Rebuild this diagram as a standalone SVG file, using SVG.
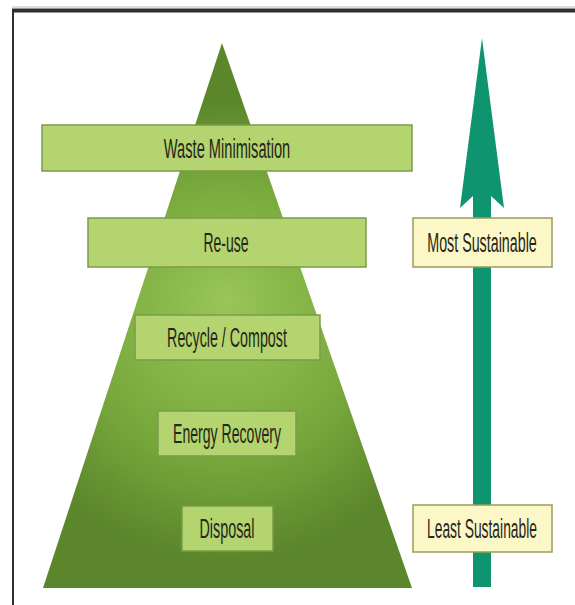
<svg xmlns="http://www.w3.org/2000/svg" width="575" height="605" viewBox="0 0 575 605">
<defs>
<radialGradient id="pg" gradientUnits="userSpaceOnUse" cx="225" cy="330" r="230" fx="225" fy="300">
<stop offset="0" stop-color="#98c657"/>
<stop offset="0.6" stop-color="#78a83c"/>
<stop offset="1" stop-color="#5b862b"/>
</radialGradient>
<style>
.lvl{fill:#b3d46e;stroke:#7c9a4c;stroke-width:1.5}
.sus{fill:#fcf7c6;stroke:#9c9a5c;stroke-width:1.5}
.t{font-family:"Liberation Sans",Arial,sans-serif;font-size:28px;fill:#26261a;text-anchor:middle}
</style>
</defs>
<rect width="575" height="605" fill="#ffffff"/>
<g id="frame">
<line x1="12" y1="10.5" x2="575" y2="10.5" stroke="#2e2e2e" stroke-width="4"/>
<line x1="12" y1="7" x2="575" y2="7" stroke="#bbbbbb" stroke-width="1"/>
<line x1="13" y1="9" x2="13" y2="605" stroke="#2e2e2e" stroke-width="2"/>
</g>
<g id="pyramid">
<polygon points="222,43 412,588 43,588" fill="url(#pg)"/>
</g>
<g id="connectors">
<polygon points="482,38 504,208 491,196 491,587 473,587 473,196 460,208" fill="#0f9470"/>
</g>
<g id="waste-minimisation">
<rect class="lvl" x="42" y="125" width="370" height="46"/>
<text class="t" transform="translate(227,158) scale(0.523,1)">Waste Minimisation</text>
</g>
<g id="re-use">
<rect class="lvl" x="88" y="218" width="278" height="49"/>
<text class="t" transform="translate(226,252) scale(0.5,1)">Re-use</text>
</g>
<g id="recycle-compost">
<rect class="lvl" x="135" y="315" width="185" height="45"/>
<text class="t" transform="translate(227,347) scale(0.51,1)">Recycle / Compost</text>
</g>
<g id="energy-recovery">
<rect class="lvl" x="158" y="411" width="138" height="45"/>
<text class="t" transform="translate(227,443) scale(0.503,1)">Energy Recovery</text>
</g>
<g id="disposal">
<rect class="lvl" x="182" y="506" width="91" height="45"/>
<text class="t" transform="translate(227,538) scale(0.512,1)">Disposal</text>
</g>
<g id="most-sustainable">
<rect class="sus" x="413" y="218" width="139" height="49"/>
<text class="t" transform="translate(482,252) scale(0.51,1)">Most Sustainable</text>
</g>
<g id="least-sustainable">
<rect class="sus" x="413" y="505" width="139" height="47"/>
<text class="t" transform="translate(482,538) scale(0.494,1)">Least Sustainable</text>
</g>
</svg>
